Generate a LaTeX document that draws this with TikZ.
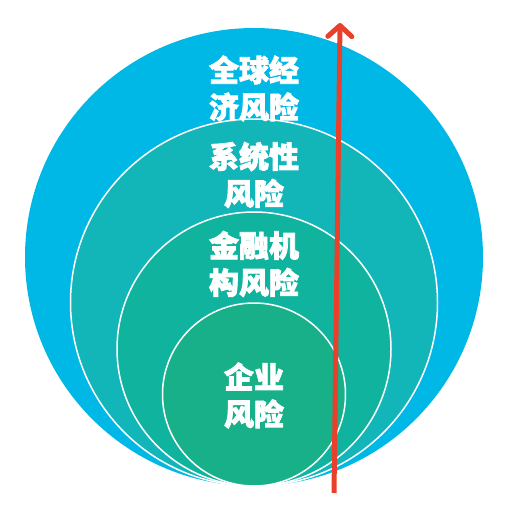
\documentclass[tikz,border=0pt]{standalone}
\usepackage{fontspec}
\newfontfamily\cjk{Noto Sans CJK SC}[BoldFeatures={FakeBold=2.5}]
\usetikzlibrary{arrows.meta}
\definecolor{c1}{HTML}{00B8E6}
\definecolor{c2}{HTML}{12B5B8}
\definecolor{c3}{HTML}{10B49E}
\definecolor{c4}{HTML}{17B088}
\definecolor{arrowred}{HTML}{E8402A}
\tikzset{
  ring/.style={circle, draw=white, line width=1.5pt, inner sep=0pt},
  lbl/.style={text=white, align=center, inner sep=0pt,
    font=\cjk\bfseries\fontsize{30}{37}\selectfont},
  riskarrow/.style={draw=arrowred, line width=5pt,
    -{Straight Barb[length=11pt,width=24pt,round]}}
}
\begin{document}
\begin{tikzpicture}[x=1pt,y=-1pt]
\useasboundingbox (0,0) rectangle (519,519);
\node[circle, fill=c1, inner sep=0pt, minimum size=458pt] (o1) at (254,257) {};
\node[ring, fill=c2, minimum size=367pt] (o2) at (254,302.5) {};
\node[ring, fill=c3, minimum size=274pt] (o3) at (254,349) {};
\node[ring, fill=c4, minimum size=183pt] (o4) at (254,394.5) {};
\node[lbl] (t1) at (254,88.5) {全球经\\济风险};
\node[lbl] (t2) at (254,175) {系统性\\风险};
\node[lbl] (t3) at (254,264) {金融机\\构风险};
\node[lbl] (t4) at (254,395.5) {企业\\风险};
\coordinate (abot) at (334,493);
\coordinate (atop) at (340,23);
\draw[riskarrow] (abot) -- (atop);
\end{tikzpicture}
\end{document}
